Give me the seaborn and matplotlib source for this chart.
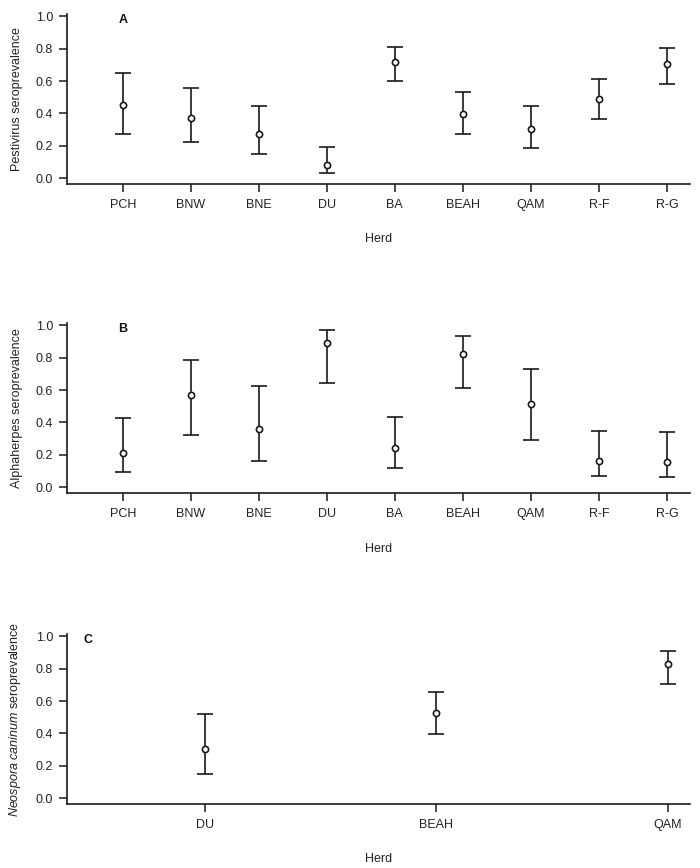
import numpy as np
import pandas as pd
import matplotlib
matplotlib.use("Agg")
import matplotlib.pyplot as plt
import matplotlib.transforms as mtransforms
import seaborn as sns

# panel A - Pestivirus
herds_a = ["PCH", "BNW", "BNE", "DU", "BA", "BEAH", "QAM", "R-F", "R-G"]
pesti_mean = [0.454, 0.373, 0.270, 0.078, 0.718, 0.395, 0.302, 0.489, 0.708]
pesti_lo = [0.272, 0.220, 0.148, 0.030, 0.600, 0.273, 0.188, 0.366, 0.584]
pesti_hi = [0.652, 0.556, 0.443, 0.189, 0.810, 0.532, 0.447, 0.610, 0.807]

# panel B - Alphaherpes
herds_b = ["PCH", "BNW", "BNE", "DU", "BA", "BEAH", "QAM", "R-F", "R-G"]
alpha_mean = [0.212, 0.571, 0.361, 0.894, 0.243, 0.825, 0.511, 0.161, 0.157]
alpha_lo = [0.090, 0.324, 0.161, 0.644, 0.117, 0.614, 0.288, 0.066, 0.064]
alpha_hi = [0.429, 0.788, 0.627, 0.972, 0.435, 0.932, 0.732, 0.348, 0.338]

# panel C - Neospora caninum
herds_c = ["DU", "BEAH", "QAM"]
neo_mean = [0.304, 0.527, 0.830]
neo_lo = [0.150, 0.397, 0.704]
neo_hi = [0.523, 0.653, 0.908]

yticks = [0.0, 0.2, 0.4, 0.6, 0.8, 1.0]

sns.set_style("ticks")
plt.rcParams["font.family"] = ["Liberation Sans", "DejaVu Sans"]
plt.rcParams["mathtext.fontset"] = "custom"
plt.rcParams["mathtext.rm"] = "Liberation Sans"
plt.rcParams["mathtext.it"] = "Liberation Sans:italic"
txt = "#222222"
fs = 9

W, H = 700, 868
fig = plt.figure(figsize=(7, 8.68), dpi=100)


def panel(bottom_px, herds, mean, lo, hi, letter, letter_x, ylabel, xlim):
    ax = fig.add_axes([67 / W, 1 - bottom_px / H, 623 / W, 170 / H])
    df = pd.DataFrame({"herd": herds, "mean": mean, "lo": lo, "hi": hi})
    pos = np.arange(len(df))
    yerr = np.vstack([df["mean"] - df["lo"], df["hi"] - df["mean"]])
    ax.errorbar(pos, df["mean"], yerr=yerr, fmt="none", ecolor="#1a1a1a",
                elinewidth=1.2, capsize=6, capthick=1.2, zorder=2)
    sns.scatterplot(x=pos, y=df["mean"], ax=ax, marker="o", s=20,
                    facecolor="white", edgecolor="#1a1a1a", linewidth=1.2,
                    zorder=3, legend=False)
    ax.set_xticks(pos)
    ax.set_xticklabels(herds)
    ax.set_yticks(yticks)
    ax.set_yticklabels([f"{t:.1f}" for t in yticks])
    ax.set_ylim(-0.037, 1.015)
    ax.set_xlim(*xlim)
    ax.set_xlabel("Herd", fontsize=fs, color=txt, labelpad=16)
    ax.set_ylabel(ylabel, fontsize=fs, color=txt, labelpad=9)
    ax.tick_params(axis="both", labelsize=fs, colors="#1a1a1a",
                   labelcolor=txt, width=1.1, length=6, direction="out")
    ax.tick_params(axis="x", pad=5)
    ax.tick_params(axis="y", pad=4)
    for s in ["left", "bottom"]:
        ax.spines[s].set_linewidth(1.2)
        ax.spines[s].set_color("#1a1a1a")
    sns.despine(ax=ax)
    trans = mtransforms.blended_transform_factory(ax.transAxes, ax.transData)
    ax.text((letter_x - 67) / 623, 0.98, letter, transform=trans,
            fontsize=fs, fontweight="bold", ha="center", va="center",
            color="#111111")
    return ax


axA = panel(184, herds_a, pesti_mean, pesti_lo, pesti_hi, "A", 123,
            "Pestivirus seroprevalence", (-0.82, 8.34))
axB = panel(493, herds_b, alpha_mean, alpha_lo, alpha_hi, "B", 123,
            "Alphaherpes seroprevalence", (-0.82, 8.34))
axC = panel(804, herds_c, neo_mean, neo_lo, neo_hi, "C", 88,
            r"$\it{Neospora\ caninum}$ seroprevalence", (-0.596, 2.095))

fig.savefig("out.png", dpi=100)
